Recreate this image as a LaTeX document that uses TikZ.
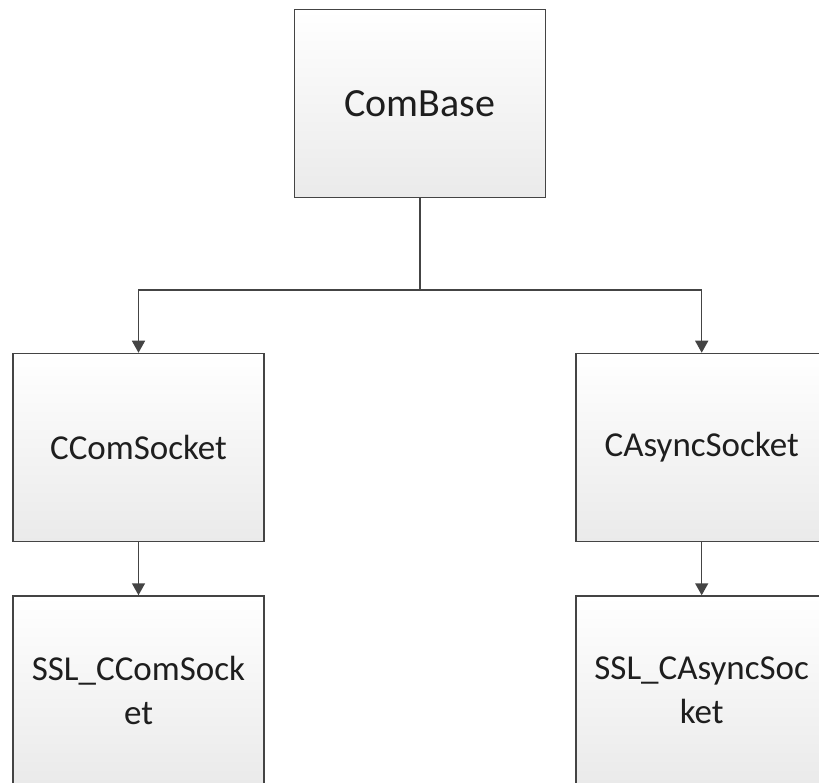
\documentclass[tikz,border=0pt]{standalone}
\usepackage{fontspec}
\setmainfont{Carlito}
\usetikzlibrary{arrows.meta}
\definecolor{edge}{HTML}{444444}
\definecolor{boxbot}{HTML}{EAEAEA}
\definecolor{txt}{HTML}{1E1E1E}
\tikzset{
  classbox/.style={draw=edge, line width=1.5pt, minimum width=251pt, minimum height=188pt,
    top color=white, bottom color=boxbot, text=txt, align=center, inner sep=0pt,
    font=\fontsize{35}{44}\selectfont},
  link/.style={draw=edge, line width=1.5pt},
  arr/.style={link, -{Triangle[width=13pt,length=12pt]}}
}
\begin{document}
\begin{tikzpicture}[x=1pt,y=-1pt]
  \useasboundingbox (0,0) rectangle (819,783);
  \clip (0,0) rectangle (819,783);
  \fill[white] (0,0) rectangle (819,783);
  % class boxes
  \node[classbox, font=\fontsize{40}{48}\selectfont] (base) at (420,103.6) {ComBase};
  \node[classbox] (ccom)   at (138.5,447.5) {CComSocket};
  \node[classbox] (casync) at (701.7,447.5) {CAsyncSocket};
  \node[classbox] (sslc)   at (138.5,690) {SSL\_CComSock\\et};
  \node[classbox] (ssla)   at (701.7,690) {SSL\_CAsyncSoc\\ket};
  % inheritance links
  \coordinate (split) at (420,290);
  \draw[link] (base.south) -- (split);
  \draw[arr] (split) -| (ccom.north);
  \draw[arr] (split) -| (casync.north);
  \draw[arr] (ccom.south) -- (sslc.north);
  \draw[arr] (casync.south) -- (ssla.north);
\end{tikzpicture}
\end{document}
